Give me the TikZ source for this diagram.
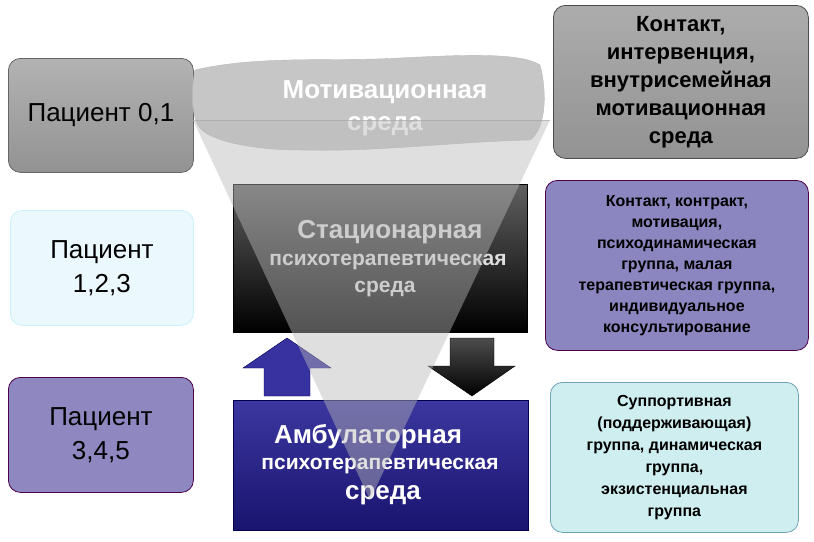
\documentclass[tikz,border=0pt]{standalone}
\usepackage{fontspec}
\setmainfont{Liberation Sans}
\begin{document}
\begin{tikzpicture}[x=1pt,y=-1pt,
  lbox/.style={draw=#1,rounded corners=12pt,line width=0.8pt},
  txt/.style={align=center,font=\fontsize{15}{17}\selectfont}]
\useasboundingbox (0,0) rectangle (814,541);
% left
\node[lbox=gray!80!black,top color=gray!60,bottom color=gray!85,minimum width=185,minimum height=114,anchor=north west,txt,font=\fontsize{26}{32}\selectfont] (p01) at (8,58) {Пациент 0,1};
\node[lbox=cyan!20,fill=cyan!8,minimum width=183,minimum height=115,anchor=north west,txt,font=\fontsize{26}{34}\selectfont] (p123) at (10,210) {Пациент\\1,2,3};
\node[lbox=violet!60!black,fill={rgb,255:red,142;green,135;blue,192},minimum width=185,minimum height=115,anchor=north west,txt,font=\fontsize{26}{34}\selectfont] (p345) at (8,377) {Пациент\\3,4,5};
% right
\node[lbox=gray!60!black,top color=gray!65,bottom color=gray!85,minimum width=255,minimum height=153,anchor=north west,txt,font=\bfseries\fontsize{22}{28}\selectfont] (r1) at (553,5) {Контакт,\\интервенция,\\внутрисемейная\\мотивационная\\среда};
\node[lbox=violet!60!black,fill={rgb,255:red,140;green,134;blue,192},minimum width=263,minimum height=170,anchor=north west,txt,font=\bfseries\fontsize{16}{21}\selectfont] (r2) at (545,180) {Контакт, контракт,\\мотивация,\\психодинамическая\\группа, малая\\терапевтическая группа,\\индивидуальное\\консультирование};
\node[lbox=cyan!40!gray,fill={rgb,255:red,206;green,238;blue,240},minimum width=248,minimum height=150,anchor=north west,txt,font=\bfseries\fontsize{16}{22}\selectfont] (r3) at (550,382) {Суппортивная\\(поддерживающая)\\группа, динамическая\\группа,\\экзистенциальная\\группа};
% cloud
\path[fill=gray!45,draw=gray!55] (195,70) .. controls (260,55) and (330,62) .. (400,58) .. controls (460,55) and (520,52) .. (540,65) .. controls (548,95) and (545,130) .. (530,140) .. controls (450,142) and (380,152) .. (300,150) .. controls (250,150) and (205,140) .. (198,125) .. controls (190,110) and (192,85) .. (195,70) -- cycle;
\node[txt,text=white,font=\bfseries\fontsize{26}{32}\selectfont] (mot) at (385,108) {Мотивационная\\среда};
% stationary
\node[draw=black,top color=gray!75!black,bottom color=black,minimum width=294,minimum height=148,anchor=north west] (st) at (233,184) {};
\node[text=gray!25,font=\bfseries\fontsize{26}{30}\selectfont] (st1) at (390,232) {Стационарная};
\node[text=gray!25,font=\bfseries\fontsize{21}{25}\selectfont] (st2) at (388,262) {психотерапевтическая};
\node[text=gray!25,font=\bfseries\fontsize{21}{25}\selectfont] (st3) at (385,289) {среда};
% ambulatory
\node[draw=blue!30!black,top color={rgb,255:red,60;green,55;blue,160},bottom color={rgb,255:red,25;green,20;blue,110},minimum width=295,minimum height=130,anchor=north west] (amb) at (233,400) {};
\node[text=white,font=\bfseries\fontsize{26}{30}\selectfont] (a1) at (368,437) {Амбулаторная};
\node[text=white,font=\bfseries\fontsize{21}{25}\selectfont] (a2) at (380,466) {психотерапевтическая};
\node[text=white,font=\bfseries\fontsize{26}{30}\selectfont] (a3) at (383,495) {среда};
% arrows
\path[fill={rgb,255:red,55;green,50;blue,160},draw=blue!30!black] (287,338) -- (331,368) -- (310,368) -- (310,396) -- (264,396) -- (264,368) -- (243,368) -- cycle;
\path[top color=gray!60!black,bottom color=black,draw=black] (450,338) -- (494,338) -- (494,366) -- (515,366) -- (472,396) -- (428,366) -- (450,366) -- cycle;
% funnel
\coordinate (tl) at (193,120); \coordinate (tr) at (550,120); \coordinate (ap) at (370,500);
\fill[gray!55,opacity=0.45] (tl) -- (tr) -- (ap) -- cycle;
\draw[gray!70,opacity=0.6] (tl) -- (tr);
\end{tikzpicture}
\end{document}
